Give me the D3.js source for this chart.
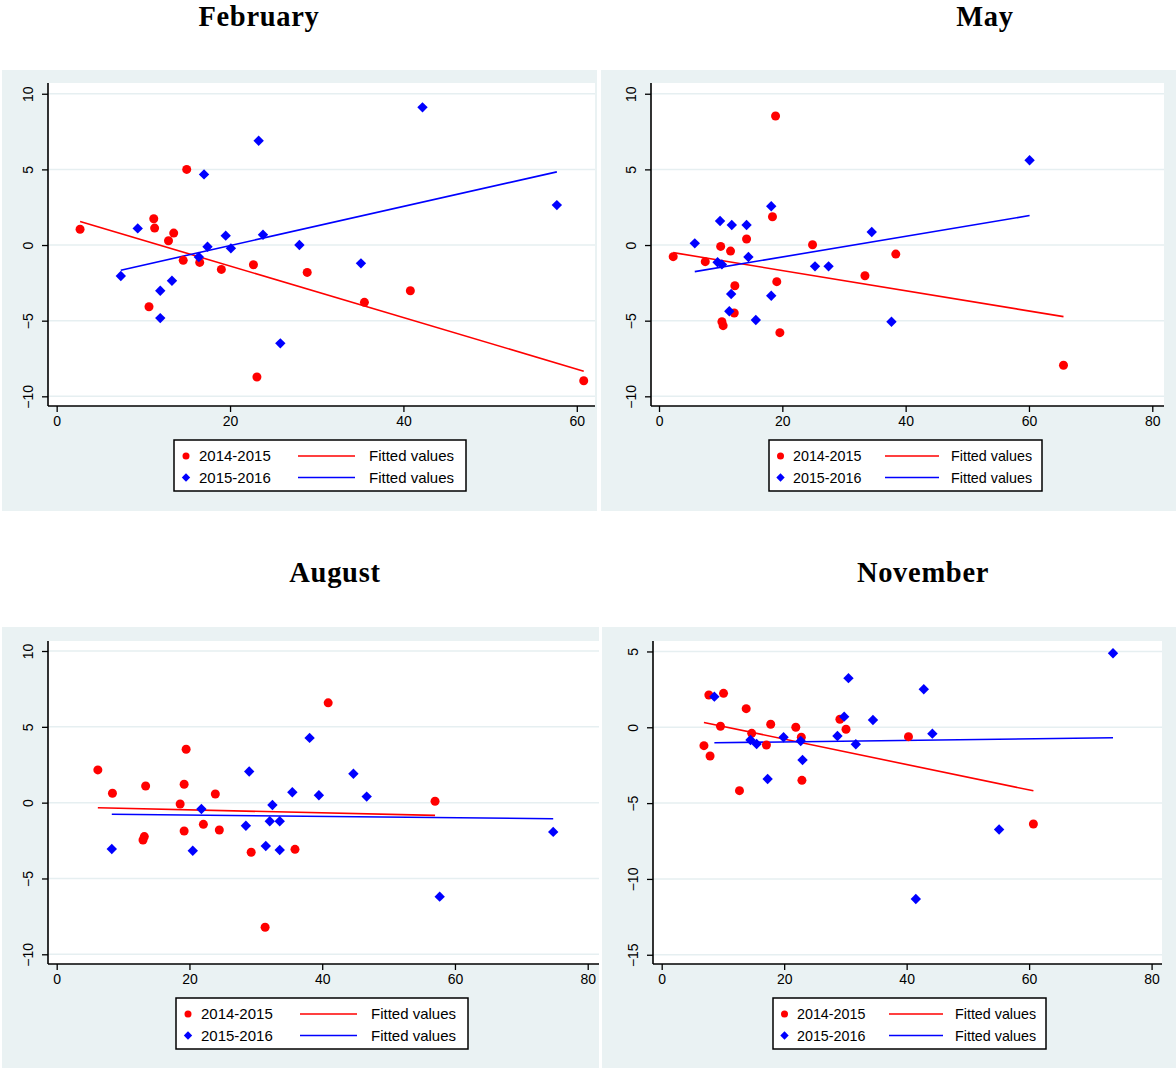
<!DOCTYPE html>
<html lang="en">
<head>
	<meta charset="UTF-8">
	<title>Fitted values by month</title>
	<style>
		body { margin: 0; background: #fff; }
		text { font-family: "Liberation Sans", Arial, sans-serif; }
	</style>
</head>
<body>
	<script src="https://d3js.org/d3.v7.min.js"></script>
	<script type="text/javascript">
		// data: [x, y]
		var seriesNames = ["2014-2015", "2015-2016"];
		var months = ["February", "May", "August", "November"];

		var feb1415 = [[2.7,1.04],[11.2,1.74],[11.3,1.12],[15.0,5.0],[12.9,0.28],[13.5,0.79],[10.65,-4.08],[14.6,-1.01],
			[16.5,-1.15],[19.0,-1.61],[22.7,-1.30],[23.1,-8.72],[28.9,-1.81],[35.5,-3.79],[40.8,-3.02],[60.8,-8.97]];
		var feb1516 = [[7.4,-2.05],[9.35,1.10],[11.95,-3.02],[11.95,-4.83],[13.3,-2.36],[17.0,4.67],[16.4,-0.79],[17.4,-0.11],
			[19.5,0.62],[20.1,-0.22],[23.3,6.89],[23.8,0.68],[25.8,-6.50],[28.0,0.0],[42.2,9.1],[35.1,-1.21],[57.7,2.64]];

		var may1415 = [[2.3,-0.77],[7.5,-1.10],[10.0,-0.09],[11.6,-0.40],[10.2,-5.07],[10.4,-5.33],[12.3,-2.69],[12.2,-4.49],
			[14.2,0.40],[18.4,1.87],[18.9,8.53],[19.1,-2.42],[19.6,-5.79],[24.9,0.02],[33.4,-2.03],[38.4,-0.6],[65.6,-7.95]];
		var may1516 = [[5.8,0.11],[9.9,1.59],[9.5,-1.14],[10.2,-1.28],[11.8,1.32],[11.7,-3.24],[11.4,-4.38],[14.2,1.32],
			[14.5,-0.79],[15.7,-4.96],[18.2,2.56],[18.2,-3.35],[25.3,-1.41],[27.5,-1.41],[34.5,0.86],[37.7,-5.07],[60.1,5.6]];

		var aug1415 = [[6.2,2.16],[8.4,0.62],[13.0,-2.46],[13.2,-2.24],[13.4,1.10],[18.6,-0.09],[19.2,1.21],[19.5,3.52],
			[19.2,-1.87],[22.1,-1.43],[23.9,0.57],[24.5,-1.80],[29.3,-3.27],[31.4,-8.22],[35.9,-3.08],[40.9,6.58],[57.0,0.09]];
		var aug1516 = [[8.3,-3.06],[20.5,-3.17],[21.8,-0.42],[28.5,-1.52],[29.0,2.05],[31.5,-2.86],[32.1,-1.23],[32.5,-0.15],
			[33.6,-1.23],[33.6,-3.12],[35.5,0.69],[38.1,4.27],[39.5,0.49],[44.7,1.91],[46.7,0.40],[57.7,-6.2],[74.8,-1.93]];

		var nov1415 = [[7.7,2.13],[10.1,2.24],[6.9,-1.21],[7.9,-1.89],[9.6,0.07],[12.7,-4.18],[13.8,1.23],[14.7,-0.40],
			[17.1,-1.17],[17.8,0.2],[21.9,0.0],[22.8,-0.66],[22.9,-3.50],[29.1,0.53],[30.1,-0.13],[40.3,-0.62],[60.7,-6.38]];
		var nov1516 = [[8.6,2.02],[14.5,-0.84],[15.5,-1.1],[17.3,-3.41],[19.9,-0.66],[22.7,-0.9],[23.0,-2.16],[28.7,-0.57],
			[29.8,0.70],[30.5,3.24],[31.7,-1.12],[34.5,0.48],[42.8,2.51],[44.2,-0.42],[55.1,-6.74],[41.5,-11.32],[73.7,4.88]];

		var xTicksFeb = [0, 20, 40, 60];
		var xTicksWide = [0, 20, 40, 60, 80];
		var yTicksMain = [-10, -5, 0, 5, 10];
		var yTicksNov = [-15, -10, -5, 0, 5];

		var colors = ["#ff0000", "#0000ff"];

		// layout of the four graphs
		var panels = [
			{data:[feb1415, feb1516], xTicks:xTicksFeb, yTicks:yTicksMain, xDom:[-1.0,62.1], yDom:[-10.64,10.71],
			 bg:[2,70,597,511], plot:[48,83,595,406], title:[259,25.5], leg:[174,440], wide:true},
			{data:[may1415, may1516], xTicks:xTicksWide, yTicks:yTicksMain, xDom:[-1.3,81.9], yDom:[-10.64,10.71],
			 bg:[601,70,1176,511], plot:[651,83,1164,406], title:[985,25.5], leg:[769,440], wide:false},
			{data:[aug1415, aug1516], xTicks:xTicksWide, yTicks:yTicksMain, xDom:[-1.31,81.7], yDom:[-10.64,10.66],
			 bg:[2,627,599,1068], plot:[48,641,599,964], title:[335,582], leg:[176,998], wide:true},
			{data:[nov1415, nov1516], xTicks:xTicksWide, yTicks:yTicksNov, xDom:[-1.42,81.7], yDom:[-15.61,5.69],
			 bg:[602,627,1176,1068], plot:[653,641,1162,964], title:[923,582], leg:[773,998], wide:false}
		];

		var svg = d3.select("body").append("svg").attr("width", 1176).attr("height", 1068);

		var diamond = function(s){ return "M0," + (-s) + "L" + s + ",0L0," + s + "L" + (-s) + ",0Z"; };

		// least squares fit
		function fit(pts){
			var mx = d3.mean(pts, function(d){ return d[0]; });
			var my = d3.mean(pts, function(d){ return d[1]; });
			var sxy = d3.sum(pts, function(d){ return (d[0]-mx)*(d[1]-my); });
			var sxx = d3.sum(pts, function(d){ return (d[0]-mx)*(d[0]-mx); });
			var b = sxy / sxx;
			var ext = d3.extent(pts, function(d){ return d[0]; });
			return [[ext[0], my + b*(ext[0]-mx)], [ext[1], my + b*(ext[1]-mx)]];
		}

		panels.forEach(function(p, i){
			var g = svg.append("g");
			g.append("rect").attr("x", p.bg[0]).attr("y", p.bg[1])
				.attr("width", p.bg[2]-p.bg[0]).attr("height", p.bg[3]-p.bg[1]).attr("fill", "#eaf2f3");
			g.append("rect").attr("x", p.plot[0]).attr("y", p.plot[1])
				.attr("width", p.plot[2]-p.plot[0]).attr("height", p.plot[3]-p.plot[1]).attr("fill", "#fff");

			svg.append("text").attr("x", p.title[0]).attr("y", p.title[1]).attr("text-anchor", "middle")
				.style("font-family", "'Liberation Serif', serif").style("font-weight", "bold").style("font-size", "28.5px")
				.style("letter-spacing", "0.7px")
				.text(months[i]);

			var x = d3.scaleLinear().domain(p.xDom).range([p.plot[0], p.plot[2]]);
			var y = d3.scaleLinear().domain(p.yDom).range([p.plot[3], p.plot[1]]);

			// grid
			g.selectAll(".grid").data(p.yTicks).enter().append("line")
				.attr("x1", p.plot[0]).attr("x2", p.plot[2])
				.attr("y1", function(d){ return y(d); }).attr("y2", function(d){ return y(d); })
				.attr("stroke", "#e6eff1").attr("stroke-width", 1.5);

			// axes
			var xAxis = g.append("g").attr("transform", "translate(0," + p.plot[3] + ")")
				.call(d3.axisBottom(x).tickValues(p.xTicks).tickSize(6).tickPadding(4).tickFormat(d3.format("d")));
			var yAxis = g.append("g").attr("transform", "translate(" + p.plot[0] + ",0)")
				.call(d3.axisLeft(y).tickValues(p.yTicks).tickSize(6).tickFormat(d3.format("d")));
			[xAxis, yAxis].forEach(function(a){
				a.select(".domain").attr("stroke", "#000").attr("stroke-width", 1.6)
					.attr("d", a === xAxis ? "M" + p.plot[0] + ",0H" + p.plot[2] : "M0," + p.plot[1] + "V" + p.plot[3]);
				a.selectAll(".tick line").attr("stroke", "#000").attr("stroke-width", 1.3);
				a.selectAll(".tick text").attr("fill", "#000").style("font-size", "14px")
					.style("font-family", "'Liberation Sans', Arial, sans-serif");
			});
			yAxis.selectAll(".tick text").attr("x", null).attr("dy", null)
				.attr("text-anchor", "middle").attr("transform", "translate(-15,0) rotate(-90)");

			// fitted lines
			p.data.forEach(function(pts, k){
				var f = fit(pts);
				g.append("line").attr("x1", x(f[0][0])).attr("y1", y(f[0][1]))
					.attr("x2", x(f[1][0])).attr("y2", y(f[1][1]))
					.attr("stroke", colors[k]).attr("stroke-width", 1.6);
			});

			// points
			g.selectAll(".r").data(p.data[0]).enter().append("circle")
				.attr("cx", function(d){ return x(d[0]); }).attr("cy", function(d){ return y(d[1]); })
				.attr("r", 4.5).attr("fill", colors[0]);
			g.selectAll(".b").data(p.data[1]).enter().append("path")
				.attr("transform", function(d){ return "translate(" + x(d[0]) + "," + y(d[1]) + ")"; })
				.attr("d", diamond(5.2)).attr("fill", colors[1]);

			// legend
			var L = p.wide ? {w:292, mk:12, tx:25, l1:124, l2:181, fv:195, fs:15}
			               : {w:273, mk:11.5, tx:24, l1:116, l2:170, fv:182, fs:14.3};
			var lg = g.append("g").attr("transform", "translate(" + p.leg[0] + "," + p.leg[1] + ")");
			lg.append("rect").attr("width", L.w).attr("height", 51).attr("fill", "#fff")
				.attr("stroke", "#000").attr("stroke-width", 1.5);
			[16, 37.5].forEach(function(ry, k){
				if (k === 0) lg.append("circle").attr("cx", L.mk).attr("cy", ry).attr("r", 3.5).attr("fill", colors[0]);
				else lg.append("path").attr("transform", "translate(" + L.mk + "," + ry + ")").attr("d", diamond(4.2)).attr("fill", colors[1]);
				lg.append("text").attr("x", L.tx).attr("y", ry + 5.3).style("font-size", L.fs + "px").text(seriesNames[k]);
				lg.append("line").attr("x1", L.l1).attr("x2", L.l2).attr("y1", ry).attr("y2", ry)
					.attr("stroke", colors[k]).attr("stroke-width", 1.4);
				lg.append("text").attr("x", L.fv).attr("y", ry + 5.3).style("font-size", L.fs + "px").text("Fitted values");
			});
		});
	</script>
</body>
</html>
